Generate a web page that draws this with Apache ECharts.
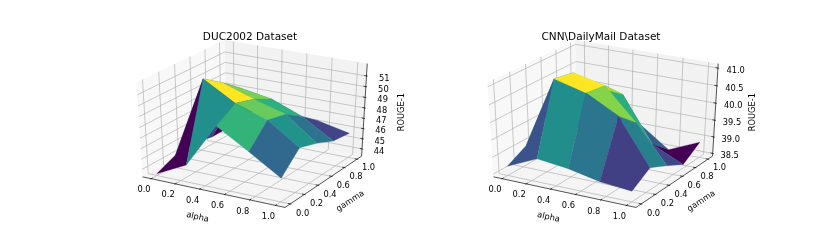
<!DOCTYPE html>
<html><head><meta charset="utf-8"><style>html,body{margin:0;padding:0;background:#fff}#c{width:830px;height:249px}</style>
<script src="https://cdn.jsdelivr.net/npm/echarts@6/dist/echarts.min.js"></script></head><body><div id="c"></div>
<script>
const ALPHA=[0,0.25,0.5,0.75,1];
const GAMMA=[0,0.25,0.5,0.75,1];
const DUC=[[43.45,44.91,49.15,47.38,45.52],
           [44.23,51.95,50.27,49.29,47.32],
           [44.40,50.72,49.73,48.86,46.71],
           [43.99,49.31,48.81,47.68,45.92],
           [44.02,46.58,46.53,46.31,45.67]];
const CNN=[[38.69,39.10,39.00,38.81,38.73],
           [38.99,41.07,40.84,40.37,39.08],
           [39.47,40.97,40.77,39.89,38.81],
           [39.17,40.32,40.25,38.94,38.52],
           [38.65,39.05,39.10,38.47,38.88]];
const TITLES=['DUC2002 Dataset','CNN\\DailyMail Dataset'];
const XT=[0,.2,.4,.6,.8,1];
const ZT=[[44,45,46,47,48,49,50,51],[38.5,39,39.5,40,40.5,41]];
const ZL=[['44','45','46','47','48','49','50','51'],['38.5','39.0','39.5','40.0','40.5','41.0']];
const D=10,U=[.8660254,.5,0],V=[-.25,.4330127,.8660254],N=[.4330127,-.75,.5];
function pw(x,y,z){const r=[x-.5,y-.5,z-.5];const d=(p,q)=>p[0]*q[0]+p[1]*q[1]+p[2]*q[2];const w=D-d(r,N);return [d(r,U)/w,d(r,V)/w,w];}
const wxy=a=>(a+.05)/1.1;
const TOP=27.5,H=191.7,W=292.2,LEFT=[103.75,454.7];
const VIR=['#440154','#482475','#414487','#355f8d','#2a788e','#21918c','#22a884','#44bf70','#7ad151','#bddf26','#fde725'];
function vir(t){t=Math.max(0,Math.min(1,t))*10;const i=Math.min(9,Math.floor(t)),f=t-i;const h=s=>[1,3,5].map(k=>parseInt(s.substr(k,2),16));const a=h(VIR[i]),b=h(VIR[i+1]);return `rgb(${a.map((v,k)=>Math.round(v+(b[k]-v)*f)).join(',')})`;}
const series=[];
[DUC,CNN].forEach((Z,k)=>{
 const zl=[Math.min(...Z.flat()),Math.max(...Z.flat())];
 const zw=t=>(t-zl[0])/(zl[1]-zl[0]);
 const e=1/48,lo=-e,hi=1+e;
 const proj=(a,g,z)=>pw(wxy(a),wxy(g),zw(z));
 const panes=[{pts:[pw(lo,lo,lo),pw(lo,hi,lo),pw(lo,hi,hi),pw(lo,lo,hi)],c:'rgba(242,242,242,.5)'},{pts:[pw(lo,hi,lo),pw(hi,hi,lo),pw(hi,hi,hi),pw(lo,hi,hi)],c:'rgba(230,230,230,.5)'},{pts:[pw(lo,lo,lo),pw(hi,lo,lo),pw(hi,hi,lo),pw(lo,hi,lo)],c:'rgba(236,236,236,.5)'}];
 const grid=[];XT.forEach(t=>{const w=wxy(t);grid.push([pw(w,lo,lo),pw(w,hi,lo),pw(w,hi,hi)]);grid.push([pw(hi,w,lo),pw(lo,w,lo),pw(lo,w,hi)]);});
 ZT[k].forEach(t=>{const w=zw(t);grid.push([pw(lo,lo,w),pw(lo,hi,w),pw(hi,hi,w)]);});
 const blk=[[pw(lo,lo,lo),pw(hi,lo,lo)],[pw(hi,lo,lo),pw(hi,hi,lo)],[pw(hi,hi,lo),pw(hi,hi,hi)]];
 const dx=1/12;XT.forEach(t=>{const w=wxy(t);blk.push([pw(w,lo-.1*dx,lo),pw(w,lo+.2*dx,lo)]);blk.push([pw(hi+.1*dx,w,lo),pw(hi-.2*dx,w,lo)]);});
 ZT[k].forEach(t=>{const w=zw(t);blk.push([pw(hi+.1*dx,hi,w),pw(hi-.2*dx,hi,w)]);});
 const facets=[],avgs=[];
 for(let i=0;i<4;i++)for(let j=0;j<4;j++){const c=[[i,j],[i,j+1],[i+1,j+1],[i+1,j]];const c5=[...c,c[0]];
  const avg=c5.reduce((s,q)=>s+Z[q[0]][q[1]],0)/5;
  const pts=c.map(q=>proj(ALPHA[q[1]],GAMMA[q[0]],Z[q[0]][q[1]]));
  facets.push({pts,avg,dep:pts.reduce((s,p)=>s+p[2],0)/4});avgs.push(avg);}
 const a0=Math.min(...avgs),a1=Math.max(...avgs);facets.sort((p,q)=>q.dep-p.dep);
 const poly=(api,pts,style)=>({type:'polygon',shape:{points:pts.map(p=>api.coord([p[0],p[1]]))},style});
 const line=(api,pts,c,w)=>({type:'polyline',shape:{points:pts.map(p=>api.coord([p[0],p[1]]))},style:{stroke:c,lineWidth:w,fill:null}});
 const base={type:'custom',xAxisIndex:k,yAxisIndex:k,coordinateSystem:'cartesian2d',silent:true,clip:false};
 series.push({...base,data:[0],renderItem:(p,api)=>({type:'group',children:[...panes.map(q=>poly(api,q.pts,{fill:q.c})),...grid.map(g=>line(api,g,'#b0b0b0',.67)),...blk.map(g=>line(api,g,'#000',.67))]})});
 series.push({...base,data:facets.map((f,i)=>i),renderItem:(p,api)=>{const f=facets[p.dataIndex];const c=vir((f.avg-a0)/(a1-a0));return poly(api,f.pts,{fill:c,stroke:c,lineWidth:.3});}});
 const labs=[];
 XT.forEach(t=>labs.push({p:pw(wxy(t),lo-.0873,lo-.079),s:t.toFixed(1)}));
 XT.forEach(t=>labs.push({p:pw(hi+.0873,wxy(t),lo-.079),s:t.toFixed(1)}));
 ZT[k].forEach((t,i)=>labs.push({p:pw(hi+.0873,hi+.079,zw(t)-.045),s:ZL[k][i]}));
 labs.push({p:pw(.52,lo-.21,lo-.16),s:'alpha',r:-13});
 labs.push({p:pw(hi+.188,.5,lo-.175),s:'gamma',r:33});
 labs.push({p:pw(hi+.22,hi+.1,.5),s:'ROUGE-1',r:90});
 series.push({...base,data:labs.map((f,i)=>i),renderItem:(p,api)=>{const f=labs[p.dataIndex];const c=api.coord([f.p[0],f.p[1]]);return {type:'text',x:c[0],y:c[1],rotation:(f.r||0)*Math.PI/180,style:{text:f.s,font:'8.3px "DejaVu Sans"',fill:'#000',align:'center',verticalAlign:'middle'}};}});
});
const chart=echarts.init(document.getElementById('c'),null,{renderer:'canvas'});
chart.setOption({animation:false,
 title:TITLES.map((t,i)=>({text:t,left:[245,596][i],top:27,textAlign:'center',textStyle:{fontFamily:'DejaVu Sans',fontSize:10.5,fontWeight:'normal',color:'#000'}})),
 grid:LEFT.map(l=>({left:l,top:TOP,width:W,height:H,show:false})),
 xAxis:[0,1].map(i=>({type:'value',gridIndex:i,min:-.095,max:.09,show:false})),
 yAxis:[0,1].map(i=>({type:'value',gridIndex:i,min:-.095,max:.09,show:false})),
 series});
</script></body></html>
